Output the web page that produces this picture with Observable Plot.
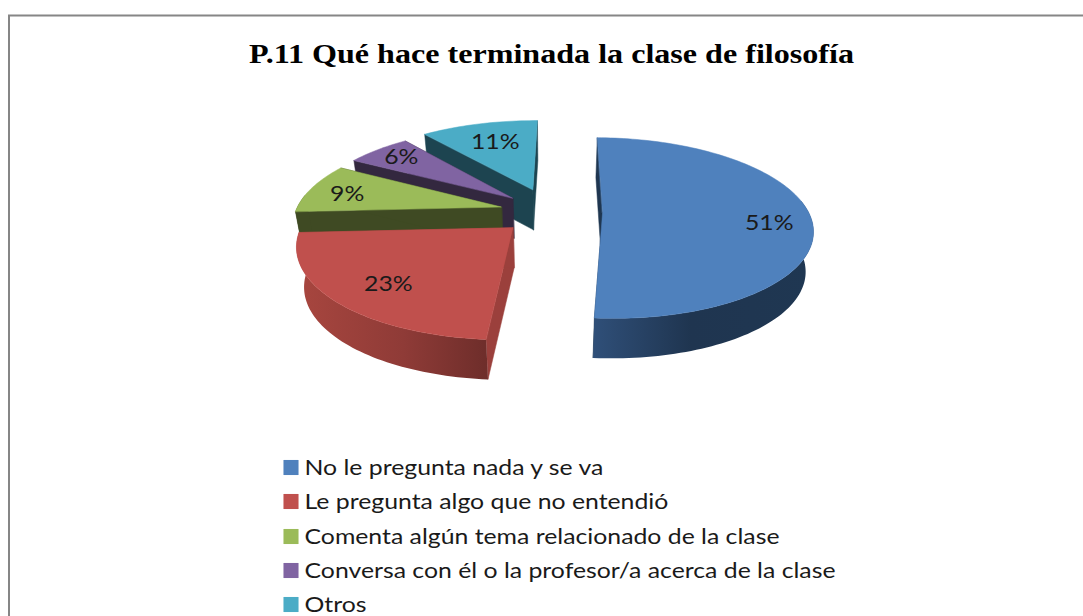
<!DOCTYPE html>
<html><head><meta charset="utf-8">
<script src="https://cdn.jsdelivr.net/npm/d3@7"></script>
<script src="https://cdn.jsdelivr.net/npm/@observablehq/plot@0.6"></script>
<style>html,body{margin:0;padding:0;background:#fff}svg{display:block}</style>
</head><body><div id="chart"></div>
<script>
const titleText = "P.11 Qué hace terminada la clase de filosofía";
const categories = ["No le pregunta nada y se va","Le pregunta algo que no entendió","Comenta algún tema relacionado de la clase","Conversa con él o la profesor/a acerca de la clase","Otros"];
const values = [51,23,9,6,11];
const labels = ["51%","23%","9%","6%","11%"];
const colors = ["#4f81bd","#c0504d","#9bbb59","#8064a2","#4bacc6"];
const sideColors = ["#1f3650","#9b403c","#3f4a23","#33283f","#1d4450"];
const drawOrder = [4,3,2,0,1];

// projection of the pie plane (a camera looking down at an exploded disc)
const W=1083,H=616, vx=551, vy=212, A=206, B=87.5, p=1/6, thick=40, shrink=0.97, rot=0.012;
const explode=[0.25,0.25,0.25,0.25,0.28];
const labelR=[0.8,0.72,0.8,0.8,0.74], labelDx=[0,-2,-2,-2,3], labelDy=[6,5,2,-2,2];
const total=d3.sum(values);
let acc=0;
const slices=values.map((v,i)=>{const a0=acc/total*2*Math.PI+rot; acc+=v; const a1=acc/total*2*Math.PI+rot; return {i,a0,a1,m:(a0+a1)/2};});
function proj(X,Y,low){const w=1+p*Y; let x=vx+A*X/w,y=vy-B*Y/w; if(low){x=vx+(x-vx)*shrink;y+=thick;} return [x,y];}
function pt(s,r,t,low){const e=explode[s.i],X=r*Math.sin(t)+e*Math.sin(s.m),Y=r*Math.cos(t)+e*Math.cos(s.m);return proj(X,Y,low);}
function arc(s,low){const n=Math.max(4,Math.ceil((s.a1-s.a0)*40));return d3.range(n+1).map(k=>({p:pt(s,1,s.a0+(s.a1-s.a0)*k/n,low),t:s.a0+(s.a1-s.a0)*k/n}));}
function poly(top,bot,fill,strokeWidth=0.5){return Plot.area(top.map((d,k)=>k),{x1:k=>top[k][0],y1:k=>top[k][1],x2:k=>bot[k][0],y2:k=>bot[k][1],fill,stroke:strokeWidth?fill:"none",strokeWidth});}

const wallFill=["url(#wall0)","url(#wall1)",sideColors[2],sideColors[3],sideColors[4]];
const marks=[];
marks.push(Plot.rect([0],{x1:()=>9,x2:()=>1200,y1:()=>15.5,y2:()=>700,fill:"white",stroke:"#868686",strokeWidth:2}));
for(const i of drawOrder){
  const s=slices[i];
  const top=arc(s,false), bot=arc(s,true);
  const ap=pt(s,0,0,false), apb=pt(s,0,0,true);
  marks.push(poly([ap,top[0].p],[apb,bot[0].p],sideColors[i]));
  marks.push(poly([ap,top[top.length-1].p],[apb,bot[bot.length-1].p],sideColors[i]));
  const keep=top.map((d,k)=>k).filter(k=>Math.cos(top[k].t)<0.15);
  marks.push(poly(keep.map(k=>top[k].p),keep.map(k=>bot[k].p),wallFill[i],0));
  marks.push(Plot.area(top.map((d,k)=>k),{x1:()=>ap[0],y1:()=>ap[1],x2:k=>top[k].p[0],y2:k=>top[k].p[1],fill:colors[i],stroke:colors[i],strokeWidth:0.5}));
}
const bodyFont="Lato";
const labelPos=slices.map(s=>pt(s,labelR[s.i],s.m,false));
marks.push(Plot.text(slices,{x:s=>labelPos[s.i][0]+labelDx[s.i],y:s=>labelPos[s.i][1]+labelDy[s.i],text:s=>labels[s.i],fontFamily:bodyFont,fontSize:22,fill:"#1a1a1a",className:"lab"}));
marks.push(Plot.text([titleText],{x:()=>551,y:()=>54,text:d=>d,fontFamily:"Liberation Serif",fontWeight:"bold",fontSize:28,fill:"#000",className:"ttl"}));
const ly=[467,501,536,570,604];
marks.push(Plot.dot(categories,{x:()=>290.5,y:(d,i)=>ly[i],symbol:"square",r:8.5,fill:(d,i)=>colors[i],stroke:"none"}));
marks.push(Plot.text(categories,{x:()=>304,y:(d,i)=>ly[i],text:d=>d,textAnchor:"start",fontFamily:bodyFont,fontSize:22,fill:"#1a1a1a",className:"leg"}));
const chart=Plot.plot({width:W,height:H,margin:0,x:{domain:[0,W],range:[0,W],axis:null},y:{domain:[0,H],range:[0,H],axis:null},marks});
document.getElementById("chart").append(chart);
// wall shading
const svg=d3.select(chart);
const defs=svg.insert("defs",":first-child");
function grad(id,x1,x2,stops){const g=defs.append("linearGradient").attr("id",id).attr("gradientUnits","userSpaceOnUse").attr("x1",x1).attr("x2",x2).attr("y1",0).attr("y2",0);stops.forEach(([o,c])=>g.append("stop").attr("offset",o).attr("stop-color",c));}
grad("wall0",590,813,[[0,"#30507a"],[0.45,"#1f3550"],[1,"#1f3752"]]);
grad("wall1",297,490,[[0,"#a8463f"],[0.55,"#8f3b37"],[1,"#6d2d2a"]]);
// stretch the text horizontally like the source image
const legNodes=[...chart.querySelectorAll(".leg text")];
const factor=531/legNodes[3].getComputedTextLength();
[...legNodes,...chart.querySelectorAll(".lab text")].forEach(t=>{t.setAttribute("textLength",t.getComputedTextLength()*factor);t.setAttribute("lengthAdjust","spacingAndGlyphs");});
const tt=chart.querySelector(".ttl text");tt.setAttribute("textLength",605);tt.setAttribute("lengthAdjust","spacingAndGlyphs");
</script></body></html>
